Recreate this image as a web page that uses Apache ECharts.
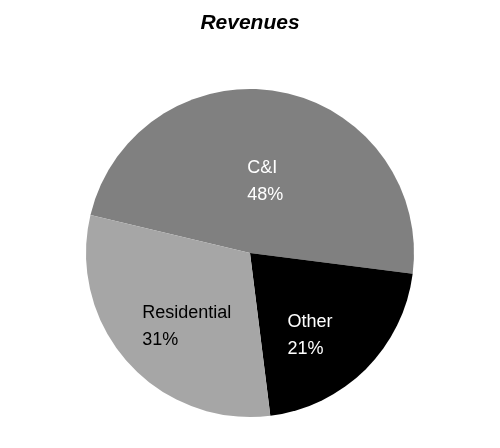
<!DOCTYPE html>
<html>
<head>
<meta charset="utf-8">
<script src="https://cdn.jsdelivr.net/npm/echarts@6/dist/echarts.min.js"></script>
<style>
html,body{margin:0;padding:0;background:#fff;}
#chart{width:500px;height:448px;}
</style>
</head>
<body>
<div id="chart"></div>
<script>
const titleText = 'Revenues';
const categories = ['C&I', 'Other', 'Residential'];
const values = [48.3, 21.0, 30.7];

// styling (kept separate from the data)
const colors = ['#808080', '#000000', '#a6a6a6'];
const labelColors = ['#ffffff', '#ffffff', '#000000'];
const labelOffsets = [[0, 12], [0, 22], [0, 17]];

const chart = echarts.init(document.getElementById('chart'), null, {renderer: 'canvas'});
const data = categories.map((c, i) => ({
  name: c,
  value: values[i],
  itemStyle: {color: colors[i]},
  label: {color: labelColors[i], offset: labelOffsets[i]}
}));
const FONT = 'Liberation Sans, Arial, sans-serif';
chart.setOption({
  animation: false,
  backgroundColor: '#ffffff',
  title: {
    text: titleText,
    left: 'center',
    top: 8,
    textStyle: {fontFamily: FONT, fontSize: 21, fontWeight: 'bold', fontStyle: 'italic', color: '#000'}
  },
  series: [{
    type: 'pie',
    center: [250, 253],
    radius: [0, 164],
    startAngle: 166.6,
    clockwise: true,
    percentPrecision: 0,
    label: {
      show: true,
      position: 'inside',
      fontFamily: FONT,
      fontSize: 18,
      lineHeight: 27,
      formatter: '{a|{b}}\n{a|{d}%}',
      rich: {a: {align: 'left', fontSize: 18, lineHeight: 27, fontFamily: FONT}}
    },
    labelLine: {show: false},
    emphasis: {disabled: true},
    itemStyle: {borderWidth: 0},
    data: data
  }]
});
</script>
</body>
</html>
